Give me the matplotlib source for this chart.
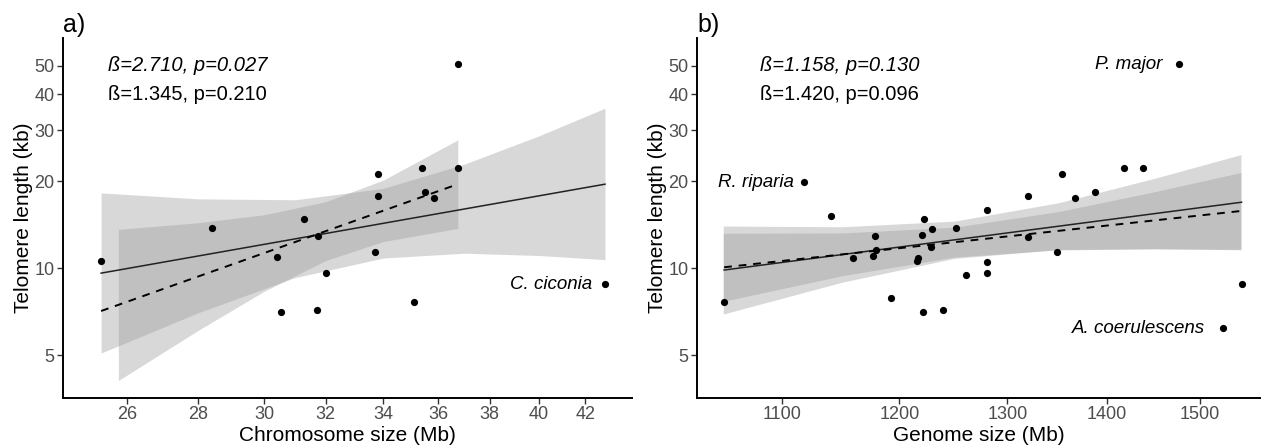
import matplotlib
matplotlib.use("Agg")
import matplotlib.pyplot as plt
import matplotlib.ticker as ticker

plt.rcParams["font.family"] = ["Liberation Sans", "DejaVu Sans"]

# panel a) chromosome size vs telomere length
chrom_size = [25.3, 28.4, 30.4, 30.55, 31.3, 31.7, 31.75, 32.0, 33.7, 33.8,
              33.8, 35.1, 35.4, 35.5, 35.85, 36.75, 36.75, 42.87]
chrom_telo = [10.6, 13.8, 10.9, 7.05, 14.8, 7.15, 12.9, 9.6, 11.35, 17.75,
              21.1, 7.6, 22.2, 18.3, 17.5, 22.2, 50.8, 8.8]
chrom_lab = ["C. ciconia"]
chrom_lab_x = [42.87]
chrom_lab_y = [8.8]

# fitted lines (all species = solid, subset = dashed)
chrom_fit_x = [25.3, 42.87]
chrom_fit_y = [9.6, 19.5]
chrom_fit2_x = [25.3, 36.75]
chrom_fit2_y = [7.1, 19.5]

# confidence bands
chrom_ci_x = [25.3, 28, 31, 34, 37, 40, 42.87]
chrom_ci_lo = [5.08, 7.0, 9.27, 10.83, 11.25, 11.05, 10.69]
chrom_ci_hi = [18.19, 17.35, 17.22, 18.87, 22.87, 28.64, 35.72]
chrom_ci2_x = [25.76, 28, 30, 32, 34, 36.75]
chrom_ci2_lo = [4.08, 6.08, 8.30, 10.61, 12.36, 13.70]
chrom_ci2_hi = [13.60, 14.34, 15.28, 16.95, 20.16, 27.75]

# panel b) genome size vs telomere length
gen_size = [1053.7, 1118, 1140.7, 1159.5, 1176.7, 1178.5, 1179.3, 1192.6,
            1216, 1216.6, 1220, 1221.6, 1222.5, 1228.7, 1229.6, 1239.4,
            1251, 1260.9, 1280.7, 1280.7, 1280.7, 1320, 1320, 1349, 1354,
            1367, 1387.5, 1417.7, 1437.9, 1476.8, 1526, 1546.7]
gen_telo = [7.63, 19.8, 15.1, 10.8, 11.0, 12.9, 11.55, 7.87,
            10.57, 10.8, 13.0, 7.04, 14.77, 11.8, 13.6, 7.16,
            13.75, 9.46, 15.87, 10.5, 9.6, 17.75, 12.8, 11.36, 21.1,
            17.47, 18.3, 22.2, 22.2, 50.8, 6.2, 8.8]
gen_lab = ["R. riparia", "P. major", "A. coerulescens"]
gen_lab_x = [1118, 1476.8, 1526]
gen_lab_y = [19.8, 50.8, 6.2]

gen_fit_x = [1053.7, 1546.7]
gen_fit_y = [9.84, 16.89]
gen_fit2_x = [1053.7, 1546.7]
gen_fit2_y = [10.06, 15.76]

gen_ci_x = [1053, 1150, 1250, 1350, 1450, 1546]
gen_ci_lo = [6.93, 8.93, 10.80, 11.59, 11.67, 11.56]
gen_ci_hi = [13.97, 13.89, 14.53, 16.81, 20.43, 24.68]
gen_ci2_lo = [7.67, 9.40, 10.91, 11.55, 11.64, 11.61]
gen_ci2_hi = [13.19, 13.22, 13.84, 15.67, 18.36, 21.40]

y_ticks = [5, 10, 20, 30, 40, 50]
chrom_ticks = [26, 28, 30, 32, 34, 36, 38, 40, 42]
gen_ticks = [1100, 1200, 1300, 1400, 1500]

GREY = "#4d4d4d"
# how far (points) each species label sits left of its dot
NUDGE = {"C. ciconia": -9, "R. riparia": -7, "P. major": -12, "A. coerulescens": -13}


def draw_panel(ax, x, y, fit, fit2, ci, ci2, labels, xticks, xlim, tag, xlabel, stats, text_x):
    ax.fill_between(ci[0], ci[1], ci[2], color="#999999", alpha=0.38, lw=0)
    ax.fill_between(ci2[0], ci2[1], ci2[2], color="#999999", alpha=0.38, lw=0)
    ax.plot(fit[0], fit[1], "-", color="#222222", lw=1.1)
    ax.plot(fit2[0], fit2[1], color="black", lw=1.4, linestyle=(0, (4, 3.5)))
    ax.plot(x, y, "o", color="black", ms=5.2, mew=0)
    for name, lx, ly in zip(*labels):
        ax.annotate(name, (lx, ly), xytext=(NUDGE.get(name, -9), 0),
                    textcoords="offset points", ha="right", va="center",
                    fontsize=13.5, style="italic")

    ax.set_xscale("log")
    ax.set_yscale("log")
    ax.set_xlim(*xlim)
    ax.set_ylim(3.55, 62.5)
    ax.xaxis.set_major_locator(ticker.FixedLocator(xticks))
    ax.xaxis.set_major_formatter(ticker.FixedFormatter([str(t) for t in xticks]))
    ax.yaxis.set_major_locator(ticker.FixedLocator(y_ticks))
    ax.yaxis.set_major_formatter(ticker.FixedFormatter([str(t) for t in y_ticks]))
    ax.xaxis.set_minor_locator(ticker.NullLocator())
    ax.yaxis.set_minor_locator(ticker.NullLocator())

    for s in ["top", "right"]:
        ax.spines[s].set_visible(False)
    for s in ["left", "bottom"]:
        ax.spines[s].set_linewidth(1.4)
    ax.tick_params(length=4, width=1, color="#333333", labelcolor=GREY,
                   labelsize=13, pad=2)

    ax.text(text_x, 50, stats[0], style="italic", fontsize=14.5, ha="left", va="center")
    ax.text(text_x, 40, stats[1], fontsize=14.5, ha="left", va="center")

    ax.set_title(tag, loc="left", fontsize=18, pad=4)
    ax.set_xlabel(xlabel, fontsize=15, labelpad=2)
    ax.set_ylabel("Telomere length (kb)", fontsize=15, labelpad=1)


fig = plt.figure(figsize=(12.62, 4.48), dpi=100)
ax1 = fig.add_axes([0.0499, 0.1116, 0.4509, 0.8036])
ax2 = fig.add_axes([0.5523, 0.1116, 0.4461, 0.8036])

draw_panel(ax1, chrom_size, chrom_telo,
           (chrom_fit_x, chrom_fit_y), (chrom_fit2_x, chrom_fit2_y),
           (chrom_ci_x, chrom_ci_lo, chrom_ci_hi),
           (chrom_ci2_x, chrom_ci2_lo, chrom_ci2_hi),
           (chrom_lab, chrom_lab_x, chrom_lab_y),
           chrom_ticks, (24.31, 44.1), "a)", "Chromosome size (Mb)",
           ("ß=2.710, p=0.027", "ß=1.345, p=0.210"), 25.49)

draw_panel(ax2, gen_size, gen_telo,
           (gen_fit_x, gen_fit_y), (gen_fit2_x, gen_fit2_y),
           (gen_ci_x, gen_ci_lo, gen_ci_hi),
           (gen_ci_x, gen_ci2_lo, gen_ci2_hi),
           (gen_lab, gen_lab_x, gen_lab_y),
           gen_ticks, (1032.7, 1568), "b)", "Genome size (Mb)",
           ("ß=1.158, p=0.130", "ß=1.420, p=0.096"), 1082)

fig.savefig("out.png", dpi=100)
